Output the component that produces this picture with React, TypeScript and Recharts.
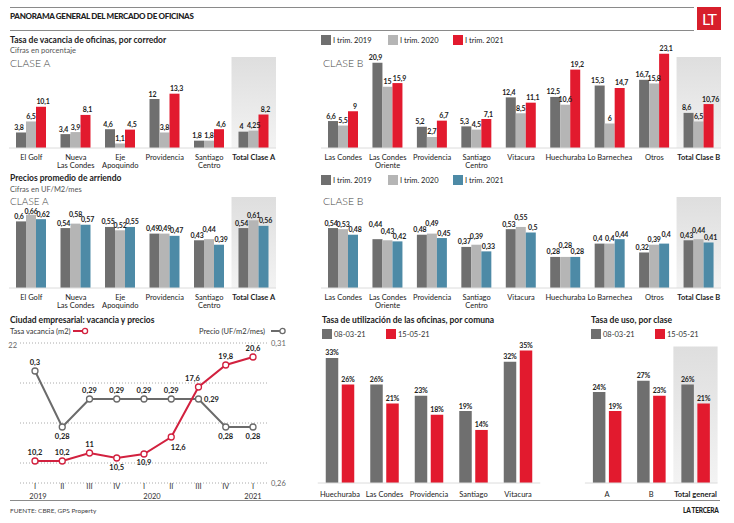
import React from 'react';
import {
  BarChart,
  Bar,
  XAxis,
  YAxis,
  LabelList,
  ReferenceArea,
  LineChart,
  Line,
  CartesianGrid,
} from 'recharts';

const FONT = 'Lato, "Open Sans", sans-serif';
const DARK = '#6f6f6f';
const LIGHT = '#b5b5b5';
const RED = '#e21a2e';
const TEAL = '#4d8aa6';
const LINE_RED = '#d2213f';
const LINE_GREY = '#6b6b6b';
const INK = '#222';

// Tasa de vacancia, Clase A
const vacACats = ['El Golf', 'Nueva\nLas Condes', 'Eje\nApoquindo', 'Providencia', 'Santiago\nCentro', 'Total Clase A'];
const vacA2019 = [3.8, 3.4, 4.6, 12, 1.8, 4];
const vacA2020 = [6.5, 3.9, 1.1, 3.8, 1.8, 4.25];
const vacA2021 = [10.1, 8.1, 4.5, 13.3, 4.6, 8.2];

// Tasa de vacancia, Clase B
const bCats = ['Las Condes', 'Las Condes\nOriente', 'Providencia', 'Santiago\nCentro', 'Vitacura', 'Huechuraba', 'Lo Barnechea', 'Otros', 'Total Clase B'];
const vacB2019 = [6.6, 20.9, 5.2, 5.3, 12.4, 12.5, 15.3, 16.7, 8.6];
const vacB2020 = [5.5, 15, 2.7, 4.5, 8.5, 10.6, 6, 15.8, 6.5];
const vacB2021 = [9, 15.9, 6.7, 7.1, 11.1, 19.2, 14.7, 23.1, 10.76];

// Precios promedio de arriendo
const preA2019 = [0.6, 0.54, 0.55, 0.49, 0.43, 0.54];
const preA2020 = [0.66, 0.58, 0.52, 0.49, 0.44, 0.61];
const preA2021 = [0.62, 0.57, 0.55, 0.47, 0.39, 0.56];
const preB2019 = [0.54, 0.44, 0.48, 0.37, 0.53, 0.28, 0.4, 0.32, 0.43];
const preB2020 = [0.53, 0.43, 0.49, 0.39, 0.55, 0.28, 0.4, 0.39, 0.44];
const preB2021 = [0.48, 0.42, 0.45, 0.33, 0.5, 0.28, 0.44, 0.4, 0.41];

// Ciudad empresarial
const periodos = ['I 2019', 'II 2019', 'III 2019', 'IV 2019', 'I 2020', 'II 2020', 'III 2020', 'IV 2020', 'I 2021'];
const trimestres = ['I', 'II', 'III', 'IV', 'I', 'II', 'III', 'IV', 'I'];
const anios = ['2019', '', '', '', '2020', '', '', '', '2021'];
const vacancia = [10.2, 10.2, 11, 10.5, 10.9, 12.6, 17.6, 19.8, 20.6];
const precio = [0.3, 0.28, 0.29, 0.29, 0.29, 0.29, 0.29, 0.28, 0.28];

// Utilizacion
const comunas = ['Huechuraba', 'Las Condes', 'Providencia', 'Santiago', 'Vitacura'];
const util0803 = [33, 26, 23, 19, 32];
const util1505 = [26, 21, 18, 14, 35];
const clases = ['A', 'B', 'Total general'];
const uso0803 = [24, 27, 26];
const uso1505 = [19, 23, 21];

// label nudges (px) so the value labels don't collide
const vacLabelPos = [[0, -9], [0, -9], [0, -9], [0, 9], [0, 8], [7, 10], [-6, -9], [0, -9], [0, -9]];
const preLabelPos = [[0, -9], [0, 9], [0, -9], [0, -9], [0, -9], [0, -9], [13, 0], [0, 9], [0, 9]];
const preALift = [[0, -1.5, 0], [0, 4, 0], [0, 0, 0], [0, 0, 0], [0, 5, 0], [0, 0, 0]];
const preBLift = [[0, 0, 0], [10, 4, 0], [0, 5, 0], [0, 3, 0], [0, 4, 0], [0, 6, 0], [0, 0, 0], [0, 0, 4], [0, 4, 0]];

const fmt = (v: any) => String(v).replace('.', ',');
const pct = (v: any) => `${v}%`;

const rows3 = (cats: string[], a: number[], b: number[], c: number[]) =>
  cats.map((cat, i) => ({ cat, a: a[i], b: b[i], c: c[i] }));
const rows2 = (cats: string[], a: number[], b: number[]) =>
  cats.map((cat, i) => ({ cat, a: a[i], b: b[i] }));

const CatTick = (props: any) => {
  const { x, y, payload, bold, dy } = props;
  const lines = String(payload.value).split('\n');
  return (
    <text
      x={x}
      y={y}
      textAnchor="middle"
      fontSize={7.5}
      fontFamily={FONT}
      fill={INK}
      fontWeight={payload.value === bold ? 700 : 400}
    >
      {lines.map((l, i) => (
        <tspan key={i} x={x} y={y + dy + i * 8}>
          {l}
        </tspan>
      ))}
    </text>
  );
};

const makeBarLabel = (dx: number, si: number, lifts: number[][] | undefined, f: (v: any) => string) => (p: any) => {
  const vb = p.viewBox || {};
  const x = p.x ?? vb.x;
  const y = p.y ?? vb.y;
  const w = p.width ?? vb.width;
  const lift = lifts && lifts[p.index] ? lifts[p.index][si] : 0;
  return (
    <text
      x={x + w / 2 + dx}
      y={y - 2.5 - lift}
      textAnchor="middle"
      fontSize={7}
      fontWeight={700}
      fontFamily={FONT}
      fill={INK}
      letterSpacing={-0.15}
    >
      {f(p.value)}
    </text>
  );
};

function Grouped(props: any) {
  const { left, top, width, height, margin, data, keys, colors, yMax, total, bgTo, barSize, barGap, tickDy, id, labelFmt, axisH, lifts } = props;
  const shifts = keys.length === 3 ? [-2, 0, 2] : [0, 0];
  return (
    <div style={{ position: 'absolute', left, top }}>
      <BarChart width={width} height={height} data={data} margin={margin} barSize={barSize} barGap={barGap}>
        <defs>
          <linearGradient id={id} x1="0" y1="0" x2="0" y2="1">
            <stop offset="0%" stopColor="#dedede" />
            <stop offset="100%" stopColor="#f3f3f3" />
          </linearGradient>
        </defs>
        <YAxis hide domain={[0, yMax]} />
        <XAxis
          dataKey="cat"
          interval={0}
          tickLine={false}
          tickSize={0}
          height={axisH}
          axisLine={{ stroke: '#dcdcdc' }}
          tick={(p: any) => <CatTick {...p} bold={total} dy={tickDy} />}
        />
        {total && (
          <ReferenceArea x1={total} x2={total} y1={0} y2={bgTo} fill={`url(#${id})`} fillOpacity={1} stroke="none" />
        )}
        {keys.map((k: string, i: number) => (
          <Bar key={k} dataKey={k} fill={colors[i]} isAnimationActive={false}>
            <LabelList dataKey={k} content={makeBarLabel(shifts[i], i, lifts, labelFmt)} />
          </Bar>
        ))}
      </BarChart>
    </div>
  );
}

const Txt = (p: any) => (
  <div
    style={{
      position: 'absolute',
      left: p.x,
      top: p.y,
      fontSize: p.size || 8,
      fontWeight: p.w || 400,
      color: p.color || INK,
      fontFamily: FONT,
      lineHeight: p.lh || 1,
      whiteSpace: 'nowrap',
      letterSpacing: p.ls || 0,
    }}
  >
    {p.children}
  </div>
);

const Swatch = (p: any) => (
  <div style={{ position: 'absolute', left: p.x, top: p.y, width: 10, height: 10, background: p.color }} />
);

const Legend3 = ({ y, third }: any) => (
  <>
    <Swatch x={321} y={y} color={DARK} />
    <Txt x={333} y={y + 1.5} size={7.5}>I trim. 2019</Txt>
    <Swatch x={388} y={y} color={LIGHT} />
    <Txt x={400} y={y + 1.5} size={7.5}>I trim. 2020</Txt>
    <Swatch x={453} y={y} color={third} />
    <Txt x={465} y={y + 1.5} size={7.5}>I trim. 2021</Txt>
  </>
);

const Legend2 = ({ x, y }: any) => (
  <>
    <Swatch x={x} y={y} color={DARK} />
    <Txt x={x + 12} y={y + 1.5} size={7.5} color="#333">08-03-21</Txt>
    <Swatch x={x + 64} y={y} color={RED} />
    <Txt x={x + 76} y={y + 1.5} size={7.5} color="#333">15-05-21</Txt>
  </>
);

const makeLineLabel = (pos: number[][], color: string) => (props: any) => {
  const { x, y, value, index } = props;
  const [dx, dy] = pos[index] || [0, -9];
  return (
    <text
      x={x + dx}
      y={y + dy}
      textAnchor="middle"
      dominantBaseline="central"
      fontSize={7.5}
      fontWeight={700}
      fontFamily={FONT}
      fill={color}
    >
      {fmt(value)}
    </text>
  );
};

const QTick = (props: any) => {
  const { x, y, index } = props;
  return (
    <g>
      <text x={x} y={y + 3.5} textAnchor="middle" fontSize={7.5} fontFamily={FONT} fill="#333">
        {trimestres[index]}
      </text>
      {anios[index] ? (
        <text x={x + (index === 4 ? 8 : index === 0 ? 3 : 0)} y={y + 13.5} textAnchor="middle" fontSize={7.5} fontFamily={FONT} fill="#333">
          {anios[index]}
        </text>
      ) : null}
    </g>
  );
};

const LeftTick = (props: any) => {
  const { x, y, payload } = props;
  if (payload.value !== 8 && payload.value !== 22) return <g />;
  return (
    <text x={x} y={y} textAnchor="end" dominantBaseline="central" fontSize={7.5} fontFamily={FONT} fill="#666">
      {payload.value}
    </text>
  );
};

export default function App() {
  const lineData = periodos.map((p, i) => ({ p, vac: vacancia[i], pre: precio[i] }));
  const common3 = { barSize: 10, barGap: 0, axisH: 25 };
  return (
    <div style={{ position: 'absolute', left: 0, top: 0, width: 734, height: 523, background: '#fff', overflow: 'hidden' }}>
      {/* header */}
      <div style={{ position: 'absolute', left: 10, top: 7, width: 684, height: 1, background: '#8a8a8a' }} />
      <div style={{ position: 'absolute', left: 10, top: 30, width: 684, height: 1, background: '#8a8a8a' }} />
      <div
        style={{
          position: 'absolute', left: 697, top: 7, width: 24, height: 23, background: '#d71f2b', color: '#fff',
          fontFamily: FONT, fontSize: 16, lineHeight: '23px', textAlign: 'center', letterSpacing: -1,
        }}
      >
        LT
      </div>
      <Txt x={10} y={12} size={8} w={900} ls={-0.3}>PANORAMA GENERAL DEL MERCADO DE OFICINAS</Txt>

      {/* vacancia */}
      <Grouped
        id="gA1" left={0} top={40} width={290} height={133}
        margin={{ top: 10, right: 14, left: 9, bottom: 0 }}
        data={rows3(vacACats, vacA2019, vacA2020, vacA2021)} keys={['a', 'b', 'c']} colors={[DARK, LIGHT, RED]}
        yMax={24} total="Total Clase A" bgTo={22.3} tickDy={10} labelFmt={fmt} {...common3}
      />
      <Grouped
        id="gB1" left={300} top={40} width={434} height={133}
        margin={{ top: 10, right: 13, left: 21, bottom: 0 }}
        data={rows3(bCats, vacB2019, vacB2020, vacB2021)} keys={['a', 'b', 'c']} colors={[DARK, LIGHT, RED]}
        yMax={24} total="Total Clase B" bgTo={22.3} tickDy={10} labelFmt={fmt} {...common3}
      />
      <Txt x={10} y={36} size={8.5} w={700}>Tasa de vacancia de oficinas, por corredor</Txt>
      <Txt x={10} y={46.5} size={7.5} color="#555">Cifras en porcentaje</Txt>
      <Txt x={10} y={58} size={10.5} w={300} color="#444">CLASE A</Txt>
      <Legend3 y={35} third={RED} />
      <Txt x={323} y={58} size={10.5} w={300} color="#444">CLASE B</Txt>

      {/* precios */}
      <Grouped
        id="gA2" left={0} top={185} width={290} height={128}
        margin={{ top: 8.65, right: 14, left: 9, bottom: 0 }}
        data={rows3(vacACats, preA2019, preA2020, preA2021)} keys={['a', 'b', 'c']} colors={[DARK, LIGHT, TEAL]}
        yMax={0.85} total="Total Clase A" bgTo={0.82} tickDy={10} labelFmt={fmt} lifts={preALift} {...common3}
      />
      <Grouped
        id="gB2" left={300} top={185} width={434} height={128}
        margin={{ top: 8.65, right: 13, left: 21, bottom: 0 }}
        data={rows3(bCats, preB2019, preB2020, preB2021)} keys={['a', 'b', 'c']} colors={[DARK, LIGHT, TEAL]}
        yMax={0.85} total="Total Clase B" bgTo={0.82} tickDy={10} labelFmt={fmt} lifts={preBLift} {...common3}
      />
      <Txt x={10} y={174} size={8.5} w={700}>Precios promedio de arriendo</Txt>
      <Txt x={10} y={185.5} size={7.5} color="#555">Cifras en UF/M2/mes</Txt>
      <Txt x={10} y={196.5} size={10} lh={0.8} w={300} color="#444">CLASE A</Txt>
      <Legend3 y={175} third={TEAL} />
      <Txt x={323} y={197} size={10.5} lh={0.8} w={300} color="#444">CLASE B</Txt>

      {/* ciudad empresarial */}
      <div style={{ position: 'absolute', left: 0, top: 336 }}>
        <LineChart width={300} height={172} data={lineData} margin={{ top: 7, right: 0, left: 0, bottom: 0 }}>
          <CartesianGrid yAxisId="l" horizontal vertical={false} stroke="#aaa" strokeDasharray="1 2" />
          <XAxis
            dataKey="p"
            interval={0}
            tickLine={false}
            axisLine={false}
            tickSize={0}
            height={25}
            padding={{ left: 15, right: 15 }}
            tick={(p: any) => <QTick {...p} />}
          />
          <YAxis
            yAxisId="l"
            width={20}
            domain={[8, 22]}
            ticks={[8, 10, 12, 14, 16, 18, 20, 22]}
            axisLine={false}
            tickLine={false}
            tickSize={0}
            tickMargin={3}
            tick={(p: any) => <LeftTick {...p} />}
          />
          <YAxis
            yAxisId="r"
            orientation="right"
            width={32}
            domain={[0.26, 0.31]}
            ticks={[0.26, 0.31]}
            axisLine={false}
            tickLine={false}
            tickSize={0}
            tickMargin={3}
            tickFormatter={fmt}
            tick={{ fontSize: 7.5, fontFamily: FONT, fill: '#666' }}
          />
          <Line
            yAxisId="r"
            dataKey="pre"
            stroke={LINE_GREY}
            strokeWidth={2}
            type="linear"
            dot={{ r: 3, fill: '#fff', stroke: LINE_GREY, strokeWidth: 1.3 }}
            activeDot={false}
            isAnimationActive={false}
          >
            <LabelList dataKey="pre" content={makeLineLabel(preLabelPos, INK)} />
          </Line>
          <Line
            yAxisId="l"
            dataKey="vac"
            stroke={LINE_RED}
            strokeWidth={2}
            type="linear"
            dot={{ r: 3, fill: '#fff', stroke: LINE_RED, strokeWidth: 1.3 }}
            activeDot={false}
            isAnimationActive={false}
          >
            <LabelList dataKey="vac" content={makeLineLabel(vacLabelPos, INK)} />
          </Line>
        </LineChart>
      </div>
      <Txt x={10} y={316} size={8.5} w={700}>Ciudad empresarial: vacancia y precios</Txt>
      <Txt x={10} y={327.5} size={7.5} color="#333">Tasa vacancia (m2)</Txt>
      <svg style={{ position: 'absolute', left: 73, top: 327 }} width={16} height={8}>
        <line x1={0} y1={4} x2={11} y2={4} stroke={LINE_RED} strokeWidth={2} />
        <circle cx={12} cy={4} r={2.6} fill="#fff" stroke={LINE_RED} strokeWidth={1.3} />
      </svg>
      <Txt x={199} y={327.5} size={7.5} color="#333">Precio (UF/m2/mes)</Txt>
      <svg style={{ position: 'absolute', left: 271, top: 327 }} width={16} height={8}>
        <line x1={0} y1={4} x2={10} y2={4} stroke={LINE_GREY} strokeWidth={2} />
        <circle cx={11.5} cy={4} r={2.6} fill="#fff" stroke={LINE_GREY} strokeWidth={1.3} />
      </svg>

      {/* utilizacion */}
      <Grouped
        id="gU" left={300} top={330} width={250} height={173}
        margin={{ top: 16.6, right: 9.75, left: 17.75, bottom: 0 }}
        data={rows2(comunas, util0803, util1505)} keys={['a', 'b']} colors={[DARK, RED]}
        yMax={36} tickDy={12} labelFmt={pct} barSize={12.5} barGap={3.5} axisH={20}
      />
      <Grouped
        id="gC" left={570} top={330} width={164} height={173}
        margin={{ top: 16.6, right: 16.4, left: 14.9, bottom: 0 }}
        data={rows2(clases, uso0803, uso1505)} keys={['a', 'b']} colors={[DARK, RED]}
        yMax={36} total="Total general" bgTo={36} tickDy={12} labelFmt={pct} barSize={12.5} barGap={3.5} axisH={20}
      />
      <Txt x={322} y={316} size={8.5} w={700}>Tasa de utilización de las oficinas, por comuna</Txt>
      <Legend2 x={322} y={329} />
      <Txt x={591} y={316} size={8.5} w={700}>Tasa de uso, por clase</Txt>
      <Legend2 x={591} y={329} />

      {/* footer */}
      <div style={{ position: 'absolute', left: 10, top: 500, width: 710, height: 1, background: '#8a8a8a' }} />
      <Txt x={10} y={508} size={6.5} color="#444">FUENTE: CBRE, GPS Property</Txt>
      <Txt x={683} y={508} size={6.5} w={900} ls={-0.2}>LA TERCERA</Txt>
    </div>
  );
}
